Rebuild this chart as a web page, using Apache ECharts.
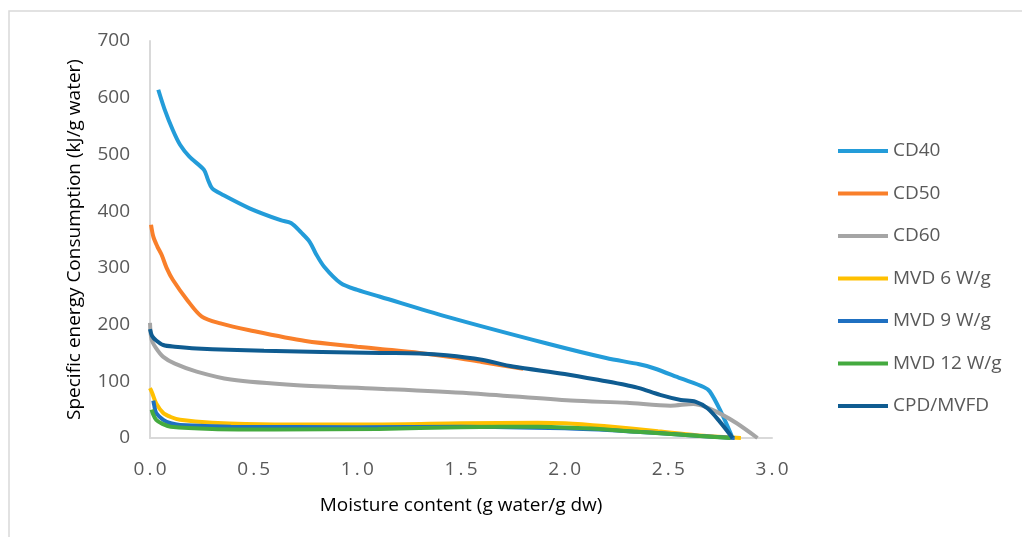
<!DOCTYPE html>
<html>
<head>
<meta charset="utf-8">
<script src="https://cdn.jsdelivr.net/npm/echarts@6/dist/echarts.min.js"></script>
<style>html,body{margin:0;padding:0;background:#fff;}#c{width:1022px;height:537px;}</style>
</head>
<body>
<div id="c"></div>
<script>
var seriesNames = ['CD40', 'CD50', 'CD60', 'MVD 6 W/g', 'MVD 9 W/g', 'MVD 12 W/g', 'CPD/MVFD'];
var xTicks = [0, 0.5, 1.0, 1.5, 2.0, 2.5, 3.0];
var yTicks = [0, 100, 200, 300, 400, 500, 600, 700];

var cd40 = [[0.04,614],[0.07,580],[0.11,543],[0.145,517],[0.19,496],[0.26,473],[0.28,455],[0.30,440],[0.35,429],[0.48,405],[0.63,384],[0.68,379],[0.73,362],[0.77,346],[0.80,325],[0.84,302],[0.92,273],[1.0,261],[1.11,249],[1.43,214],[1.91,167],[2.2,141],[2.36,130],[2.43,123],[2.56,105],[2.67,90],[2.70,82],[2.75,49],[2.81,0]];
var cd50 = [[0.005,376],[0.016,355],[0.035,338],[0.056,323],[0.08,300],[0.11,279],[0.18,243],[0.25,214],[0.34,202],[0.48,190],[0.75,171],[1.0,161],[1.11,157],[1.3,150],[1.45,143],[1.6,134],[1.8,122]];
var cd60 = [[0.0,203],[0.008,173],[0.03,158],[0.064,143],[0.12,131],[0.225,117],[0.39,103],[0.71,93],[1.1,87],[1.54,79],[2.03,66],[2.3,62],[2.51,57],[2.62,60],[2.68,55],[2.75,43],[2.83,26],[2.93,0]];
var mvd6 = [[0.0,88],[0.01,80],[0.03,61],[0.064,44],[0.1,37],[0.145,32],[0.3,27],[0.6,24],[1.1,24],[1.5,26],[1.87,27],[2.0,26],[2.19,21],[2.45,12],[2.67,4],[2.85,0]];
var mvd9 = [[0.016,66],[0.02,58],[0.03,44],[0.064,32],[0.1,26],[0.145,23],[0.39,20],[1.0,19],[1.5,20],[2.0,17],[2.3,12],[2.6,5],[2.82,0]];
var mvd12 = [[0.008,50],[0.015,42],[0.03,32],[0.06,25],[0.1,20],[0.3,16],[0.6,15],[1.1,16],[1.5,19],[1.87,20],[2.1,17],[2.35,11],[2.6,5],[2.8,0]];
var cpd = [[0.0,192],[0.01,180],[0.03,172],[0.064,164],[0.12,161],[0.225,158],[0.55,154],[1.11,150],[1.3,149],[1.43,146],[1.6,138],[1.75,126],[2.0,113],[2.2,100],[2.3,93],[2.36,88],[2.46,76],[2.56,67],[2.63,64],[2.69,52],[2.75,28],[2.81,0]];

var seriesData = [cd40, cd50, cd60, mvd6, mvd9, mvd12, cpd];
var colors = ['#239CD9', '#F97F2A', '#A5A5A5', '#FFC000', '#1F70C1', '#44AA3F', '#0F5C91'];
var font = '"Open Sans", "Liberation Sans", sans-serif';

var chart = echarts.init(document.getElementById('c'));
chart.setOption({
  animation: false,
  backgroundColor: '#fff',
  color: colors,
  graphic: [{
    type: 'rect', shape: {x: 9, y: 11, width: 1100, height: 600},
    style: {fill: 'none', stroke: '#D9D9D9', lineWidth: 1.5}, silent: true, z: -1
  }],
  grid: {left: 150, right: 250, top: 41, bottom: 99, containLabel: false},
  legend: {
    orient: 'vertical', left: 833, top: 135,
    itemWidth: 50, itemHeight: 4, itemGap: 20.5, icon: 'rect',
    textStyle: {fontFamily: font, fontSize: 19, color: '#595959', lineHeight: 22},
    data: seriesNames
  },
  xAxis: {
    type: 'value', min: 0, max: 3, interval: 0.5,
    name: 'Moisture content (g water/g dw)', nameLocation: 'middle', nameGap: 58,
    nameTextStyle: {fontFamily: font, fontSize: 19, color: '#000'},
    axisLine: {show: true, lineStyle: {color: '#D9D9D9', width: 2}},
    axisTick: {show: false}, splitLine: {show: false},
    axisLabel: {
      fontFamily: font, fontSize: 19, color: '#595959', margin: 22,
      formatter: function (v) { return v.toFixed(1).split('').join('\u2009'); }
    }
  },
  yAxis: {
    type: 'value', min: 0, max: 700, interval: 100,
    name: 'Specific energy Consumption (kJ/g water)', nameLocation: 'middle', nameGap: 66,
    nameTextStyle: {fontFamily: font, fontSize: 19, color: '#000'},
    axisLine: {show: true, lineStyle: {color: '#D9D9D9', width: 2}},
    axisTick: {show: false}, splitLine: {show: false},
    axisLabel: {fontFamily: font, fontSize: 19, color: '#595959', margin: 20}
  },
  series: seriesNames.map(function (n, i) {
    return {
      name: n, type: 'line', data: seriesData[i], showSymbol: false, symbol: 'none',
      smooth: 0.3, lineStyle: {width: 4, color: colors[i]}, z: 2 + i
    };
  })
});
</script>
</body>
</html>
